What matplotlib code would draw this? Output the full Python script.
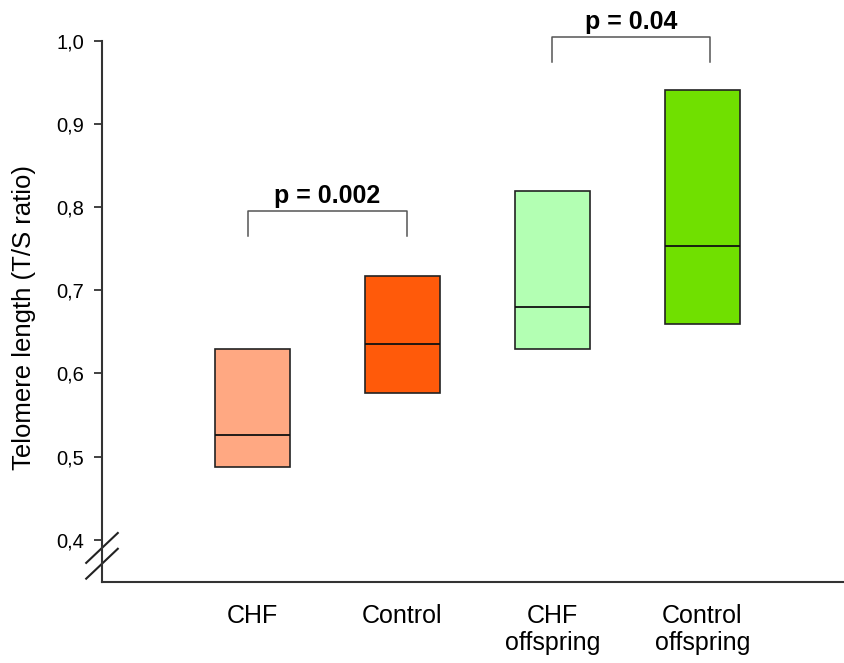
import matplotlib
matplotlib.use("Agg")
import matplotlib.pyplot as plt

plt.rcParams['font.family'] = ['Liberation Sans', 'DejaVu Sans']

# dados
grupos = ['CHF', 'Control', 'CHF\noffspring', 'Control\noffspring']
q1 = [0.487, 0.576, 0.630, 0.659]
mediana = [0.526, 0.635, 0.680, 0.754]
q3 = [0.630, 0.717, 0.820, 0.941]
cores = ['#FFA882', '#FF5A0A', '#B3FFB3', '#70E000']

yticks = [0.4, 0.5, 0.6, 0.7, 0.8, 0.9, 1.0]
ytick_labels = ['0,4', '0,5', '0,6', '0,7', '0,8', '0,9', '1,0']

# comparacoes: (x inicio, x fim, y topo, texto)
comparacoes = [(0.97, 2.03, 0.795, 'p = 0.002'),
               (3.00, 4.05, 1.005, 'p = 0.04')]

fig = plt.figure(figsize=(8.44, 6.63), dpi=100)
ax = fig.add_axes([102 / 844, 1 - 582 / 663, 1 - 102 / 844, (582 - 41.2) / 663])

x = list(range(1, len(grupos) + 1))
alturas = [b - a for a, b in zip(q1, q3)]
ax.bar(x, alturas, bottom=q1, width=0.5, color=cores, edgecolor='#222222', linewidth=1.2, zorder=2)
ax.hlines(mediana, [i - 0.25 for i in x], [i + 0.25 for i in x], colors='#111111', linewidth=1.3, zorder=3)

# colchetes com valor p
for x0, x1, yt, txt in comparacoes:
    ax.plot([x0, x0, x1, x1], [yt - 0.03, yt, yt, yt - 0.03], color='#555555', lw=1.1, clip_on=False)
    ax.text((x0 + x1) / 2, yt + 0.004, txt, ha='center', va='bottom', fontsize=18,
            fontweight='bold', clip_on=False)

ax.set_xlim(0, 4.943)
ax.set_ylim(0.349, 1.0)
ax.set_yticks(yticks)
ax.set_yticklabels(ytick_labels, fontsize=14.5)
ax.set_xticks(x)
ax.set_xticklabels(grupos, fontsize=18, linespacing=1.15, va='top')
ax.tick_params(axis='x', length=0, pad=16)
ax.tick_params(axis='y', direction='out', length=6, width=1.3, pad=7, color='#333333')

for s in ['top', 'right']:
    ax.spines[s].set_visible(False)
for s in ['left', 'bottom']:
    ax.spines[s].set_linewidth(1.5)
    ax.spines[s].set_color('#333333')

ax.set_ylabel('Telomere length (T/S ratio)', fontsize=18.5)
ax.yaxis.set_label_coords(-0.089, 0.489)

# marca de quebra do eixo
dx = (118.3 - 86.7) / 844 / (1 - 102 / 844) * (ax.get_xlim()[1] - ax.get_xlim()[0])
for y_c in [0.390, 0.371]:
    ax.plot([dx / 2, -dx / 2], [y_c + 0.018, y_c - 0.018], color='#222222', lw=1.5, clip_on=False)

fig.savefig('out.png', dpi=100)
